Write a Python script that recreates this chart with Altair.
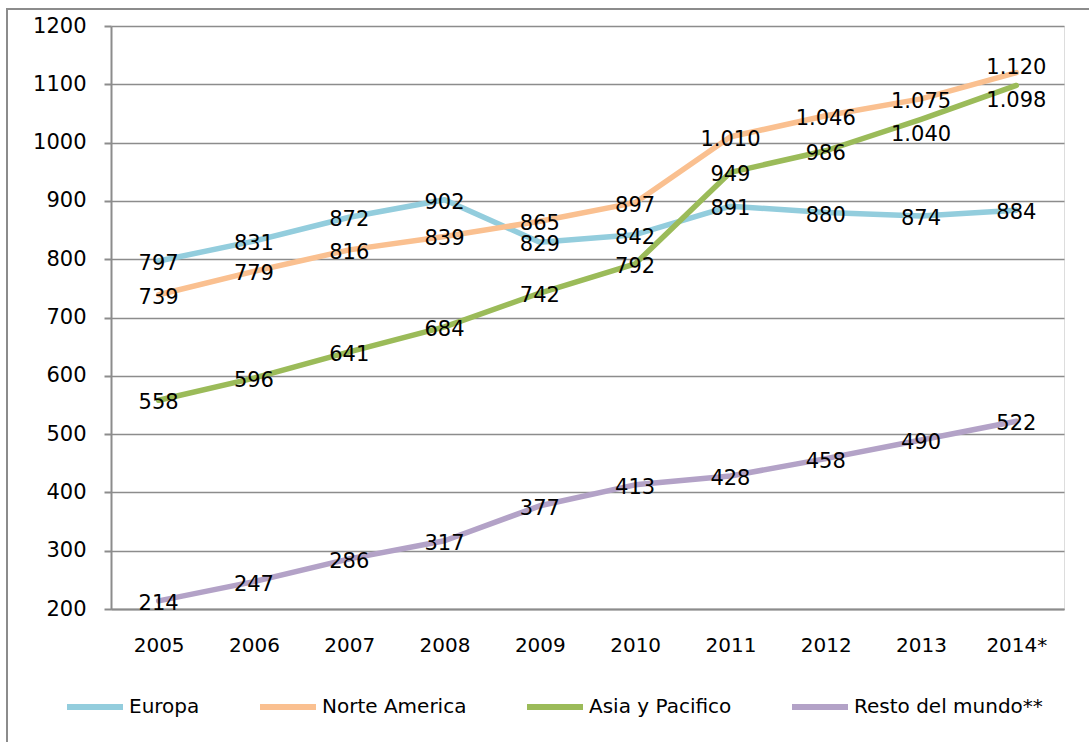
import altair as alt
import pandas as pd

# Series values per year
years = ["2005", "2006", "2007", "2008", "2009", "2010", "2011", "2012", "2013", "2014*"]
europa = [797, 831, 872, 902, 829, 842, 891, 880, 874, 884]
norte_america = [739, 779, 816, 839, 865, 897, 1010, 1046, 1075, 1120]
asia_pacifico = [558, 596, 641, 684, 742, 792, 949, 986, 1040, 1098]
resto_mundo = [214, 247, 286, 317, 377, 413, 428, 458, 490, 522]

series_names = ["Europa", "Norte America", "Asia y Pacifico", "Resto del mundo**"]
series_colors = ["#93CDDD", "#FAC090", "#9BBB59", "#B3A2C7"]

# labels nudged off their point (everything else sits centred on the point)
label_place = {
    ("Norte America", "2014*"): "above",
    ("Asia y Pacifico", "2013"): "below",
    ("Asia y Pacifico", "2014*"): "below",
}

rows = []
for name, vals in zip(series_names, [europa, norte_america, asia_pacifico, resto_mundo]):
    for i, (yr, v) in enumerate(zip(years, vals)):
        rows.append({
            "year": yr,
            "order": i,
            "serie": name,
            "value": v,
            "label": f"{v:,}".replace(",", "."),
            "place": label_place.get((name, yr), "center"),
        })
df = pd.DataFrame(rows)

FONT = "DejaVu Sans"
GRID = "#8C8C8C"
W, H = 953, 583

x_enc = alt.X("year:N", sort=years, scale=alt.Scale(type="point", padding=0.5),
              axis=alt.Axis(title=None, labelAngle=0, labelFont=FONT, labelFontSize=20,
                            labelColor="#000000", ticks=False, domainColor=GRID,
                            domainWidth=2, labelPadding=26, grid=False))
y_enc = alt.Y("value:Q", scale=alt.Scale(domain=[200, 1200], nice=False),
              axis=alt.Axis(title=None, values=list(range(200, 1201, 100)), format="d",
                            labelFont=FONT, labelFontSize=21, labelColor="#000000",
                            tickSize=7, tickColor=GRID, tickWidth=2,
                            domainColor=GRID, domainWidth=2, labelPadding=18,
                            grid=True, gridColor=GRID, gridWidth=1.5))

base = alt.Chart(df)

lines = base.mark_line(strokeWidth=5.5, strokeCap="round", strokeJoin="round").encode(
    x=x_enc,
    y=y_enc,
    color=alt.Color("serie:N",
                    scale=alt.Scale(domain=series_names, range=series_colors),
                    sort=series_names,
                    legend=alt.Legend(title=None, orient="none", direction="horizontal",
                                      legendX=-47, legendY=650, symbolType="stroke",
                                      symbolSize=3136, symbolStrokeWidth=6,
                                      labelFont=FONT, labelFontSize=20, labelColor="#000000",
                                      labelOffset=3, columnPadding=48, padding=0,
                                      labelLimit=0, symbolOpacity=1)),
    order=alt.Order("order:Q"),
    detail="serie:N",
)

def label_layer(place, dy):
    return base.transform_filter(alt.datum.place == place).mark_text(
        font=FONT, fontSize=21, color="#000000", baseline="middle", align="center", dy=dy
    ).encode(x=alt.X("year:N", sort=years), y=alt.Y("value:Q"), text="label:N")

labels = label_layer("center", 3) + label_layer("above", -5) + label_layer("below", 16)

frame = alt.Chart(pd.DataFrame({"f": [0]})).mark_rect(
    filled=False, stroke=GRID, strokeWidth=2
).encode(x=alt.value(-104), x2=alt.value(W + 200), y=alt.value(-17), y2=alt.value(H + 300))

chart = alt.layer(frame, lines, labels).properties(
    width=W, height=H,
    autosize=alt.AutoSizeParams(type="none"),
    padding={"left": 111, "top": 26, "right": 1089 - 111 - W, "bottom": 742 - 26 - H},
).configure_view(stroke=None).configure(background="white")

chart.save("out.html", embed_options={"renderer": "svg", "actions": False})
